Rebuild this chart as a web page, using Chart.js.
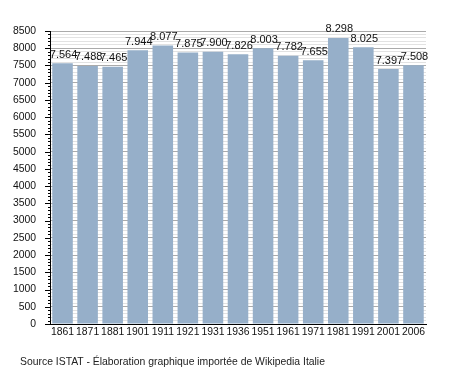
<!DOCTYPE html>
<html>
<head>
<meta charset="utf-8">
<script src="https://cdn.jsdelivr.net/npm/chart.js@4.4.1/dist/chart.umd.min.js"></script>
<style>
  html, body { margin: 0; padding: 0; background: #fff; }
  #wrap { position: relative; width: 455px; height: 373px; }
  #footer { position: absolute; left: 20px; top: 356px; font: 10.4px "Liberation Sans", Arial, sans-serif; color: #222; white-space: nowrap; }
</style>
</head>
<body>
<div id="wrap">
  <canvas id="c" width="455" height="373"></canvas>
  <div id="footer">Source ISTAT - Élaboration graphique importée de Wikipedia Italie</div>
</div>
<script>
const years = ["1861","1871","1881","1901","1911","1921","1931","1936","1951","1961","1971","1981","1991","2001","2006"];
const population = [7564, 7488, 7465, 7944, 8077, 7875, 7900, 7826, 8003, 7782, 7655, 8298, 8025, 7397, 7508];
const yMin = 0, yMax = 8500, majorStep = 500, minorStep = 100;

function fmt(v) {
  return String(v).replace(/\B(?=(\d{3})+(?!\d))/g, ".");
}

const extras = {
  id: 'extras',
  afterDatasetsDraw(chart) {
    const ctx = chart.ctx;
    const y = chart.scales.y;
    const area = chart.chartArea;
    ctx.save();
    ctx.strokeStyle = '#000';
    ctx.lineWidth = 1;
    for (let v = yMin; v <= yMax; v += minorStep) {
      const py = Math.round(y.getPixelForValue(v)) + 0.5;
      const len = (v % majorStep === 0) ? 5 : 2;
      ctx.beginPath();
      ctx.moveTo(area.left - len, py);
      ctx.lineTo(area.left, py);
      ctx.stroke();
    }
    ctx.fillStyle = '#111';
    ctx.font = '11px "Liberation Sans", Arial, sans-serif';
    ctx.textAlign = 'center';
    ctx.textBaseline = 'bottom';
    const meta = chart.getDatasetMeta(0);
    meta.data.forEach((bar, i) => {
      ctx.fillText(fmt(population[i]), bar.x + 1, bar.y - 3);
    });
    ctx.restore();
  }
};

new Chart(document.getElementById('c'), {
  type: 'bar',
  data: {
    labels: years,
    datasets: [{
      data: population,
      backgroundColor: '#96afc9',
      borderWidth: 0,
      barPercentage: 0.82,
      categoryPercentage: 1.0
    }]
  },
  options: {
    responsive: false,
    animation: false,
    events: [],
    layout: { padding: { top: 31, right: 29, bottom: 33, left: 0 } },
    plugins: { legend: { display: false }, tooltip: { enabled: false } },
    scales: {
      x: {
        grid: { display: false, drawTicks: false },
        border: { display: true, color: '#000', width: 1 },
        ticks: {
          color: '#111',
          padding: 2,
          maxRotation: 0,
          autoSkip: false,
          font: { family: '"Liberation Sans", Arial, sans-serif', size: 10.4 }
        },
        afterFit(s) { s.height = 16; }
      },
      y: {
        min: yMin,
        max: yMax,
        grid: {
          drawTicks: false,
          color: (c) => (c.tick && c.tick.value % majorStep === 0) ? '#aaaaaa' : '#e2e2e2',
          lineWidth: 1
        },
        border: { display: true, color: '#000', width: 1 },
        ticks: {
          stepSize: minorStep,
          maxTicksLimit: 200,
          autoSkip: false,
          padding: 14,
          color: '#111',
          font: { family: '"Liberation Sans", Arial, sans-serif', size: 10.4 },
          callback: (v) => (v % majorStep === 0 ? String(v) : '')
        },
        afterFit(s) { s.width = 50; }
      }
    }
  },
  plugins: [extras]
});
</script>
</body>
</html>
